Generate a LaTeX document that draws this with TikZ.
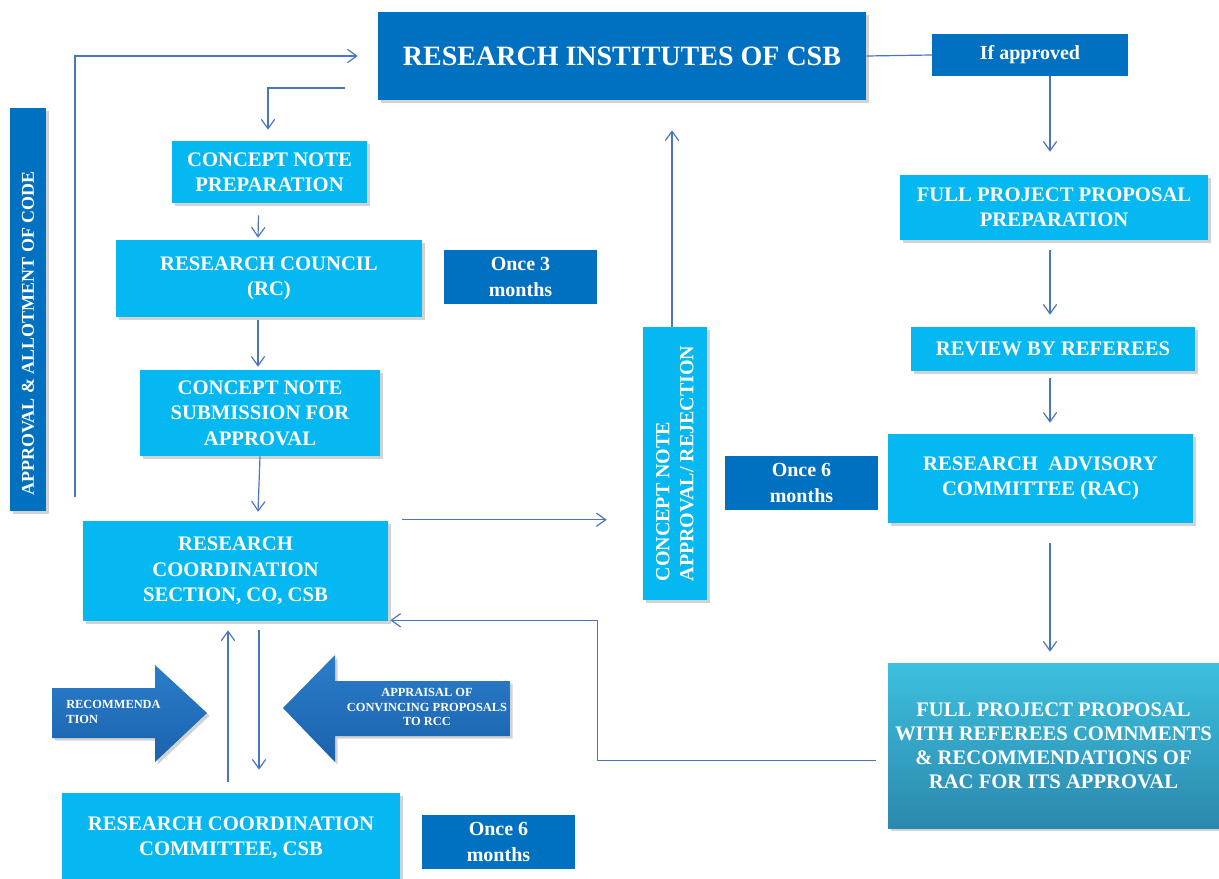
\documentclass[tikz,border=0pt]{standalone}
\usepackage{fontspec}
\setmainfont{Liberation Serif}
\usetikzlibrary{arrows.meta,shadows,calc}
\definecolor{dblue}{HTML}{0070C0}
\definecolor{cyanbox}{HTML}{05B8F2}
\definecolor{conncol}{HTML}{4A76C0}
\definecolor{teal1}{HTML}{3CC0DE}
\definecolor{teal2}{HTML}{2C88AE}
\definecolor{arrtop}{HTML}{2A7DCB}
\definecolor{arrbot}{HTML}{1B62AC}
% box from pixel corners: style, x1, y1, x2, y2, name
\newcommand\pxbox[6]{\node[#1, minimum width={(#4-#2)*0.75pt}, minimum height={(#5-#3)*0.75pt}] (#6) at ({(#2+#4)/2},{(#3+#5)/2})}
\begin{document}
\begin{tikzpicture}[x=0.75pt,y=-0.75pt,
  base/.style={inner sep=0pt, align=center, text=white,
    font=\bfseries\fontsize{15.5pt}{19pt}\selectfont},
  shad/.style={drop shadow={shadow xshift=2pt,shadow yshift=-2pt,opacity=0.35}},
  lbox/.style={base, shad, fill=cyanbox},
  dbox/.style={base, shad, fill=dblue},
  nbox/.style={base, fill=dblue, font=\bfseries\fontsize{15pt}{19pt}\selectfont},
  arrtext/.style={text=white, font=\bfseries\fontsize{9.3pt}{11pt}\selectfont, inner sep=0pt},
  conn/.style={draw=conncol, line width=0.9pt, -{Straight Barb[length=7pt,width=10pt]}},
  plain/.style={draw=conncol, line width=0.9pt}
]
\useasboundingbox (0,0) rectangle (1219,878);
\fill[white] (0,0) rectangle (1219,878);

% boxes
\pxbox{dbox, font=\bfseries\fontsize{21pt}{25pt}\selectfont}{378}{12}{866}{100}{ri} {RESEARCH INSTITUTES OF CSB};
\pxbox{nbox}{932}{34}{1128}{76}{ifap} {If approved};
\pxbox{lbox}{172}{141}{367}{203}{cnp} {CONCEPT NOTE\\PREPARATION};
\pxbox{lbox}{116}{240}{422}{317}{rc} {RESEARCH COUNCIL\\(RC)};
\pxbox{nbox}{444}{250}{597}{304}{o3} {Once 3\\months};
\pxbox{lbox}{140}{370}{380}{456}{cns} {CONCEPT NOTE\\SUBMISSION FOR\\APPROVAL};
\pxbox{lbox}{83}{521}{388}{621}{rcs} {RESEARCH\\COORDINATION\\SECTION, CO, CSB};
\pxbox{lbox}{62}{793}{400}{882}{rcc} {RESEARCH COORDINATION\\COMMITTEE, CSB};
\pxbox{nbox}{422}{815}{575}{869}{o6b} {Once 6\\months};
\node[dbox, rotate=90, minimum width=302pt, minimum height=27pt,
      font=\bfseries\fontsize{13.5pt}{16pt}\selectfont] (aac) at (28,309.5) {APPROVAL \& ALLOTMENT OF CODE\hspace*{36pt}};
\node[lbox, rotate=90, minimum width=205pt, minimum height=48pt, align=left,
      font=\bfseries\fontsize{15pt}{18pt}\selectfont] (cnar) at (675,463.5) {CONCEPT NOTE\\APPROVAL/ REJECTION};
\pxbox{nbox}{725}{456}{878}{510}{o6m} {Once 6\\months};
\pxbox{lbox}{900}{175}{1208}{240}{fpp} {FULL PROJECT PROPOSAL\\PREPARATION};
\pxbox{lbox}{911}{327}{1195}{371}{rev} {REVIEW BY REFEREES};
\pxbox{lbox}{888}{434}{1193}{523}{rac} {RESEARCH\ \ ADVISORY\\COMMITTEE (RAC)};
\pxbox{base, shad, top color=teal1, bottom color=teal2, font=\bfseries\fontsize{15.5pt}{18pt}\selectfont}{888}{663}{1219}{828}{fpr}
  {FULL PROJECT PROPOSAL\\WITH REFEREES COMNMENTS\\\& RECOMMENDATIONS OF\\RAC FOR ITS APPROVAL};

% big block arrows
\shade[top color=arrtop, bottom color=arrbot, shad]
  (52,688) -- (155,688) -- (155,665) -- (207,713) -- (155,762) -- (155,738) -- (52,738) -- cycle;
\node[arrtext, align=left, anchor=west] (rect) at (66,712) {RECOMMENDA\\TION};
\shade[top color=arrtop, bottom color=arrbot, shad]
  (510,681) -- (335,681) -- (335,655) -- (283,708) -- (335,762) -- (335,736) -- (510,736) -- cycle;
\node[arrtext, align=center] (appt) at (427,707) {APPRAISAL OF\\CONVINCING PROPOSALS\\TO RCC};

% connectors
\coordinate (l1) at (75,497);
\draw[conn, shorten >=15pt] (l1) |- (ri.west);
\coordinate (s2) at (345,88);
\draw[conn] (s2) -| ($(cnp.north)+(-1.5,-11)$);
\draw[conn] ($(cnp.south)+(-11,12)$) -- ($(rc.north)+(-11,-2)$);
\draw[conn] ($(rc.south)+(-11,3)$) -- ($(cns.north)+(-2,-3)$);
\draw[conn] (cns.south) -- ($(rcs.north -| cns.south)+(-2,-9)$);
\draw[conn] ($(rcs.north east)+(14,-1)$) -- ($(cnar.north |- rcs.north east)+(-36,-1)$);
\draw[conn] ($(cnar.east)+(-3,0)$) -- ($(ri.south -| cnar.east)+(-3,30)$);
\draw[plain] (ri.east) -- (ifap.west);
\draw[conn] ($(ifap.south)+(20,0)$) -- ($(fpp.north)+(-4,-23)$);
\draw[conn] ($(fpp.south)+(-4,10)$) -- ($(rev.north)+(-3,-12)$);
\draw[conn] ($(rev.south)+(-3,7)$) -- ($(rac.north)+(9.5,-11)$);
\draw[conn] ($(rac.south)+(9.5,20)$) -- ($(fpr.north)+(-3.5,-11)$);
\draw[conn] ($(fpr.west)+(-12,15)$) -| ($(rcs.south east)+(209,-1)$) -- ($(rcs.south east)+(2,-1)$);
\draw[conn] ($(rcc.north)+(-3,-11)$) -- ($(rcs.south)+(-7.5,9)$);
\draw[conn] ($(rcs.south)+(23.5,9)$) -- ($(rcc.north)+(28,-23)$);
\end{tikzpicture}
\end{document}
